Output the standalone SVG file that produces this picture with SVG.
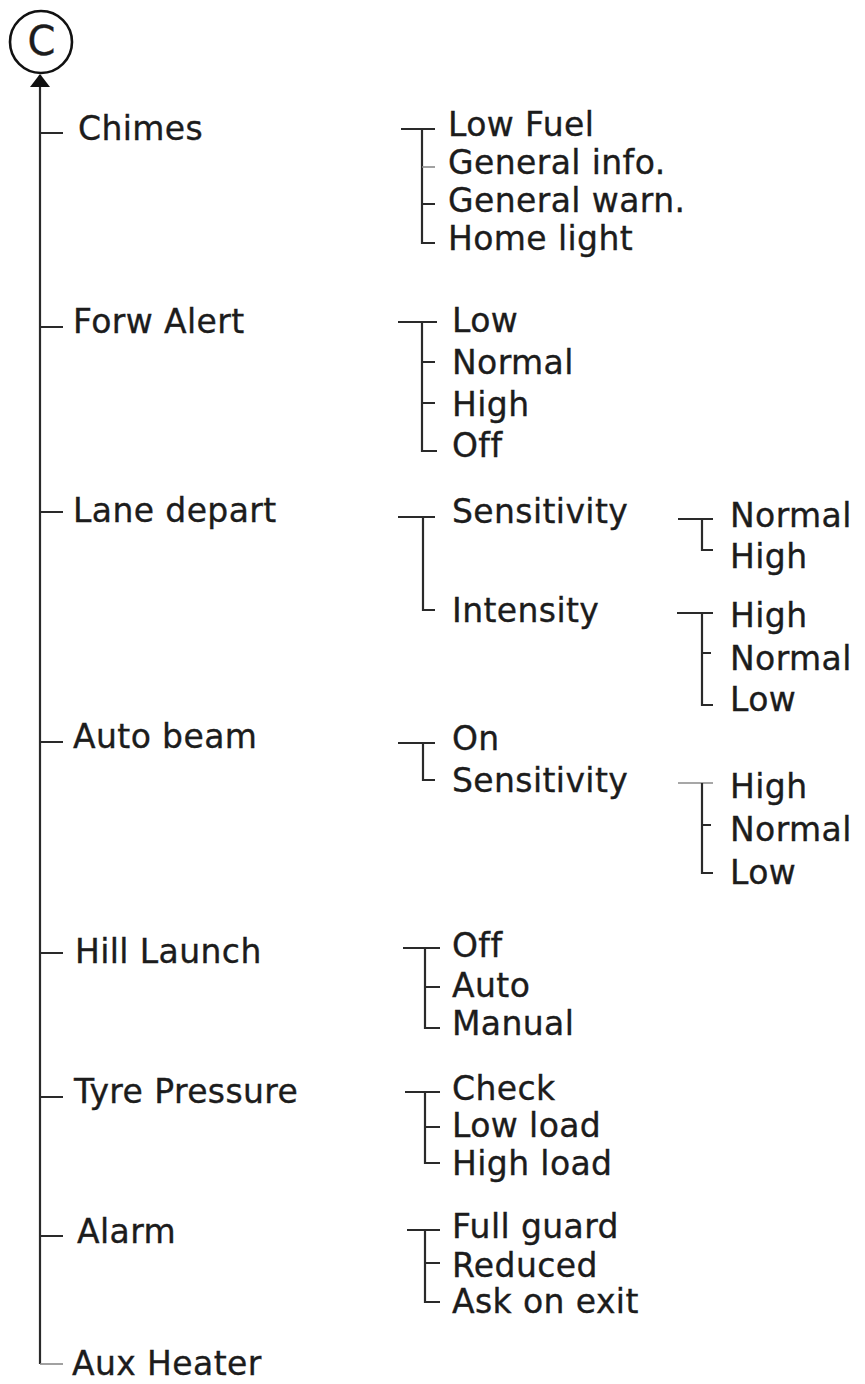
<svg xmlns="http://www.w3.org/2000/svg" width="865" height="1384" viewBox="0 0 865 1384">
<style>
text{font-family:"DejaVu Sans","Liberation Sans",sans-serif;font-size:33px;fill:#1c1c1c;stroke:#1c1c1c;stroke-width:0.35px;letter-spacing:0.4px}
.ln{stroke:#2a2a2a;stroke-width:2.2;fill:none}
.lt{stroke:#8a8a8a;stroke-width:1.6;fill:none}
</style>
<defs>
<marker id="ah" markerWidth="20" markerHeight="14" refX="10" refY="1" orient="0" markerUnits="userSpaceOnUse">
<path d="M0,13 L10,0 L20,13 Z" fill="#111"/>
</marker>
</defs>
<rect width="865" height="1384" fill="#fff"/>
<g id="connectors">
<path class="ln" d="M40,1364 L40,75" marker-end="url(#ah)"/>
<path class="ln" d="M40,133 H63 M40,327 H63 M40,512 H63 M40,742 H63 M40,953 H63 M40,1097 H63 M40,1236 H63"/>
<path class="lt" d="M40,1364 H63"/>
<!-- Chimes -->
<path class="ln" d="M401,129 H435 M422,129 V243 H435 M422,204 H435"/>
<path class="lt" d="M422,167 H435"/>
<!-- Forw Alert -->
<path class="ln" d="M398,322 H437 M422,322 V451 H437 M422,362 H435 M422,403 H435"/>
<!-- Lane depart -->
<path class="ln" d="M398,517 H435 M423,517 V610 H435"/>
<path class="ln" d="M678,519 H713 M702,519 V550 H713"/>
<path class="ln" d="M677,613 H713 M702,613 V705 H713 M702,653 H711"/>
<!-- Auto beam -->
<path class="ln" d="M398,743 H435 M423,743 V780 H435"/>
<path class="lt" d="M678,783 H713"/>
<path class="ln" d="M702,783 V873 H713 M702,825 H711"/>
<!-- Hill Launch -->
<path class="ln" d="M403,948 H440 M425,948 V1028 H440 M425,987 H440"/>
<!-- Tyre Pressure -->
<path class="ln" d="M405,1092 H440 M425,1092 V1163 H440 M425,1127 H440"/>
<!-- Alarm -->
<path class="ln" d="M407,1230 H440 M425,1230 V1302 H440 M425,1263 H440"/>
</g>
<g id="node-c">
<circle cx="41" cy="42" r="31" fill="none" stroke="#111" stroke-width="2.6"/>
<text x="41.5" y="55" text-anchor="middle" style="font-size:40px;letter-spacing:0">C</text>
</g>
<g id="node-chimes"><text x="78" y="140">Chimes</text></g>
<g id="node-forw-alert"><text x="73" y="333">Forw Alert</text></g>
<g id="node-lane-depart"><text x="73" y="522">Lane depart</text></g>
<g id="node-auto-beam"><text x="73" y="748">Auto beam</text></g>
<g id="node-hill-launch"><text x="75" y="963">Hill Launch</text></g>
<g id="node-tyre-pressure"><text x="74" y="1103">Tyre Pressure</text></g>
<g id="node-alarm"><text x="77" y="1243">Alarm</text></g>
<g id="node-aux-heater"><text x="72" y="1375">Aux Heater</text></g>
<g id="chimes-options">
<text x="448" y="136">Low Fuel</text>
<text x="448" y="174">General info.</text>
<text x="448" y="212">General warn.</text>
<text x="448" y="250">Home light</text>
</g>
<g id="forw-alert-options">
<text x="452" y="332">Low</text>
<text x="452" y="374">Normal</text>
<text x="452" y="416">High</text>
<text x="452" y="457">Off</text>
</g>
<g id="lane-depart-options">
<text x="452" y="523">Sensitivity</text>
<text x="452" y="622">Intensity</text>
</g>
<g id="lane-sensitivity-options">
<text x="730" y="527">Normal</text>
<text x="730" y="568">High</text>
</g>
<g id="lane-intensity-options">
<text x="730" y="627">High</text>
<text x="730" y="670">Normal</text>
<text x="730" y="711">Low</text>
</g>
<g id="auto-beam-options">
<text x="452" y="750">On</text>
<text x="452" y="792">Sensitivity</text>
</g>
<g id="auto-beam-sensitivity-options">
<text x="730" y="798">High</text>
<text x="730" y="841">Normal</text>
<text x="730" y="884">Low</text>
</g>
<g id="hill-launch-options">
<text x="452" y="957">Off</text>
<text x="452" y="997">Auto</text>
<text x="452" y="1035">Manual</text>
</g>
<g id="tyre-pressure-options">
<text x="452" y="1100">Check</text>
<text x="452" y="1137">Low load</text>
<text x="452" y="1175">High load</text>
</g>
<g id="alarm-options">
<text x="452" y="1238">Full guard</text>
<text x="452" y="1277">Reduced</text>
<text x="452" y="1313">Ask on exit</text>
</g>
</svg>
